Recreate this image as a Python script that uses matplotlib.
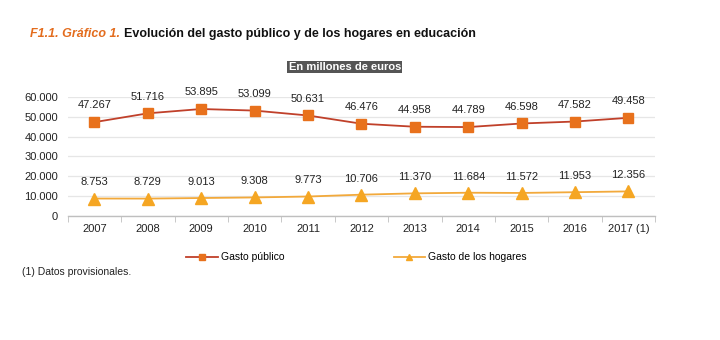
import matplotlib
matplotlib.use("Agg")
import matplotlib.pyplot as plt
import numpy as np

plt.rcParams['font.family'] = ['Liberation Sans', 'DejaVu Sans']

years = ["2007", "2008", "2009", "2010", "2011", "2012", "2013", "2014", "2015", "2016", "2017 (1)"]
gasto_publico = [47267, 51716, 53895, 53099, 50631, 46476, 44958, 44789, 46598, 47582, 49458]
gasto_hogares = [8753, 8729, 9013, 9308, 9773, 10706, 11370, 11684, 11572, 11953, 12356]
y_ticks = [0, 10000, 20000, 30000, 40000, 50000, 60000]


def fmt(v):
    return f"{v:,}".replace(",", ".")


fig = plt.figure(figsize=(7.2, 3.4), dpi=100)
ax = fig.add_axes([0.094, 0.365, 0.816, 0.35])

x = np.arange(len(years))
l1, = ax.plot(x, gasto_publico, color="#C0402A", lw=1.3, marker="s", ms=7.5,
              mfc="#E8711C", mec="#E8711C", label="Gasto público", zorder=3)
l2, = ax.plot(x, gasto_hogares, color="#F2A93B", lw=1.3, marker="^", ms=8,
              mfc="#F5A623", mec="#F5A623", label="Gasto de los hogares", zorder=3)

for xi, v in zip(x, gasto_publico):
    ax.annotate(fmt(v), (xi, v), xytext=(0, 8.5), textcoords="offset points",
                ha="center", va="bottom", fontsize=8, color="#222222")
for xi, v in zip(x, gasto_hogares):
    ax.annotate(fmt(v), (xi, v), xytext=(0, 8), textcoords="offset points",
                ha="center", va="bottom", fontsize=8, color="#222222")

ax.set_xlim(-0.5, len(years) - 0.5)
ax.set_ylim(0, 60000)
ax.set_yticks(y_ticks)
ax.set_yticklabels([fmt(t) for t in y_ticks], fontsize=8, color="#222222")
ax.set_xticks(x)
ax.set_xticklabels(years, fontsize=8, color="#222222")
ax.tick_params(axis="x", length=0, pad=6)
ax.tick_params(axis="y", length=0, pad=7)
ax.set_xticks(np.arange(-0.5, len(years) + 0.5, 1), minor=True)
ax.tick_params(axis="x", which="minor", length=4, color="#BFBFBF")
ax.grid(axis="y", color="#E6E6E6", lw=0.9)
ax.set_axisbelow(True)
for s in ["top", "right", "left"]:
    ax.spines[s].set_visible(False)
ax.spines["bottom"].set_color("#BFBFBF")
ax.spines["bottom"].set_linewidth(1.0)

# Title: orange prefix followed by the black main text
fig.canvas.draw()
renderer = fig.canvas.get_renderer()
t1 = fig.text(0.042, 0.9, "F1.1. Gráfico 1.", fontsize=9, fontweight="bold",
              fontstyle="italic", color="#E36C1D", va="center")
bb = t1.get_window_extent(renderer=renderer)
x_next = (bb.x1 + 4) / fig.bbox.width
fig.text(x_next, 0.9, "Evolución del gasto público y de los hogares en educación",
         fontsize=9, fontweight="bold", color="#111111", va="center")

# Units box
fig.text(0.479, 0.803, "En millones de euros", fontsize=8, fontweight="bold",
         color="white", ha="center", va="center",
         bbox=dict(boxstyle="square,pad=0.12", fc="#555555", ec="none"))

fig.legend(handles=[l1, l2], loc="center", bbox_to_anchor=(0.495, 0.243),
           ncol=2, frameon=False, fontsize=7.5, markerscale=0.5,
           handlelength=3.0, handletextpad=0.3, columnspacing=10.5)

fig.text(0.03, 0.2, "(1) Datos provisionales.", fontsize=7.5, color="#222222",
         va="center")

fig.savefig("out.png", dpi=100, facecolor="white")
